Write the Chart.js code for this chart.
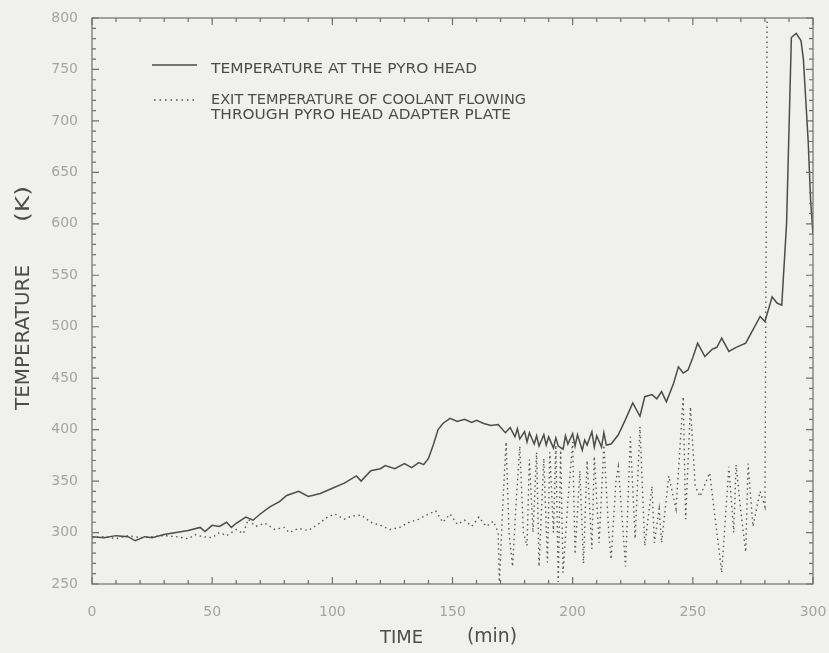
<!DOCTYPE html>
<html>
<head>
<meta charset="utf-8">
<script src="https://cdn.jsdelivr.net/npm/chart.js@4/dist/chart.umd.min.js"></script>
<style>
  html, body { margin: 0; padding: 0; background: #f0f0ee; }
  #wrap { width: 829px; height: 653px; position: relative; }
</style>
</head>
<body>
<div id="wrap"><canvas id="pyroChart" width="829" height="653"></canvas></div>
<script>
// temperature at the pyro head (solid)
const headTime = [0, 5, 10, 15, 18, 22, 25, 30, 35, 40, 45, 47, 50, 53, 56, 58, 60, 64, 67, 70,
  74, 78, 81, 86, 90, 95, 100, 105, 110, 112, 116, 120, 122, 126, 130, 133, 136, 138, 140, 142,
  144, 146, 149, 152, 155, 158, 160, 163, 166, 169, 172, 174, 176, 177, 178, 180, 181, 182, 184, 185,
  186, 188, 189, 190, 192, 193, 194, 196, 197, 198, 200, 201, 202, 204, 205, 206, 208, 209, 210, 212,
  213, 214, 216, 219, 222, 225, 228, 230, 233, 235,
  237, 239, 242, 244, 246, 248, 250, 252, 255, 258, 260, 262, 265, 268, 272, 275, 278, 280, 283, 285,
  287, 289, 291, 293, 295, 296, 297, 298, 299, 300];
const headTemp = [296, 295, 297, 296, 292, 296, 295, 298, 300, 302, 305, 301, 307, 306, 310, 305, 309, 315, 312, 318,
  325, 330, 336, 340, 335, 338, 343, 348, 355, 350, 360, 362, 365, 362, 367, 363, 368, 366, 372, 385,
  400, 406, 411, 408, 410, 407, 409, 406, 404, 405, 397, 402, 393, 401, 391, 398, 388, 397, 386, 394,
  384, 395, 385, 393, 382, 392, 384, 381, 394, 386, 396, 384, 395, 380, 390, 385, 398, 383, 394, 383,
  397, 385, 386, 395, 410, 426, 413, 432, 434, 430,
  437, 427, 445, 461, 455, 458, 470, 484, 471, 478, 480, 489, 476, 480, 484, 497, 510, 505, 529, 523,
  521, 600, 781, 785, 778, 760, 720, 680, 623, 590];

// exit temperature of coolant (dotted)
const coolTime = [0, 5, 10, 15, 20, 25, 30, 35, 40, 43, 46, 50, 53, 56, 60, 63, 65, 68, 72, 76,
  80, 82, 86, 90, 94, 98, 101, 105, 108, 112, 116, 120, 124, 128, 132, 136, 140, 143, 146, 149,
  152, 155, 158, 161, 164, 167, 169, 169.5, 171, 172.3, 173.5, 175, 176.5, 178, 179.5, 181, 182, 183.5, 185, 186,
  188, 189.5, 190.5, 192, 193, 194, 195, 196, 198, 200, 201, 203, 204.5, 206, 208, 209, 211, 213, 215, 216,
  218, 219, 221, 222, 224, 226, 228, 230, 233, 234, 236, 237, 240, 243, 246, 247, 249, 251, 253, 257,
  260, 262, 265, 267, 268, 270, 272, 273, 275, 278, 280, 281, 300];
const coolTemp = [295, 296, 294, 297, 295, 296, 297, 296, 294, 298, 296, 295, 300, 297, 303, 299, 313, 306, 309, 303,
  305, 300, 304, 302, 308, 315, 318, 313, 316, 317, 310, 307, 303, 305, 310, 313, 318, 321, 310, 318,
  308, 312, 306, 315, 306, 311, 300, 252, 330, 388, 300, 267, 330, 384, 300, 287, 371, 300, 378, 267,
  372, 271, 378, 300, 385, 252, 380, 261, 330, 388, 279, 360, 270, 370, 284, 374, 290, 385, 300, 274,
  350, 364, 300, 267, 393, 294, 403, 287, 345, 290, 323, 290, 355, 323, 432, 313, 422, 345, 335, 358,
  300, 261, 364, 300, 366, 320, 281, 367, 306, 340, 325, 850, 850];

const xTickRange = [0, 300, 50];
const yTickRange = [250, 800, 50];

const legendLines = [
  ['TEMPERATURE AT THE PYRO HEAD'],
  ['EXIT TEMPERATURE OF COOLANT FLOWING', 'THROUGH PYRO HEAD ADAPTER PLATE']
];

const ink = '#4c4c4c';
const tickGrey = '#a4a4a4';

// stretch/squeeze a string to a given width
function fitText(ctx, text, x, y, w) {
  const k = w / ctx.measureText(text).width;
  ctx.save();
  ctx.translate(x, y);
  ctx.scale(k, 1);
  ctx.fillText(text, 0, 0);
  ctx.restore();
}

// frame + inward ticks on all four sides
const framePlugin = {
  id: 'frame',
  afterDatasetsDraw(chart) {
    const { ctx, chartArea: a, scales } = chart;
    ctx.save();
    ctx.strokeStyle = '#6e6e6e';
    ctx.lineWidth = 1.2;
    ctx.strokeRect(a.left, a.top, a.right - a.left, a.bottom - a.top);
    ctx.beginPath();
    for (let v = xTickRange[0]; v <= xTickRange[1]; v += 10) {
      const px = scales.x.getPixelForValue(v);
      const len = v % 50 === 0 ? 7 : 4;
      ctx.moveTo(px, a.bottom); ctx.lineTo(px, a.bottom - len);
      ctx.moveTo(px, a.top); ctx.lineTo(px, a.top + len);
    }
    for (let v = yTickRange[0]; v <= yTickRange[1]; v += 10) {
      const py = scales.y.getPixelForValue(v);
      const len = v % 50 === 0 ? 7 : 4;
      ctx.moveTo(a.left, py); ctx.lineTo(a.left + len, py);
      ctx.moveTo(a.right, py); ctx.lineTo(a.right - len, py);
    }
    ctx.stroke();
    ctx.restore();
  }
};

// legend and axis titles
const textPlugin = {
  id: 'texts',
  afterDraw(chart) {
    const ctx = chart.ctx;
    ctx.save();
    ctx.fillStyle = ink;
    ctx.textBaseline = 'middle';
    ctx.textAlign = 'left';

    ctx.strokeStyle = ink;
    ctx.lineWidth = 1.4;
    ctx.beginPath(); ctx.moveTo(152, 65); ctx.lineTo(197, 65); ctx.stroke();
    ctx.setLineDash([1.5, 4]);
    ctx.beginPath(); ctx.moveTo(154, 100); ctx.lineTo(197, 100); ctx.stroke();
    ctx.setLineDash([]);

    ctx.font = '14px "DejaVu Sans", sans-serif';
    fitText(ctx, legendLines[0][0], 211, 69, 266);
    fitText(ctx, legendLines[1][0], 211, 100, 315);
    fitText(ctx, legendLines[1][1], 211, 115, 300);

    // x title
    ctx.font = '18px "DejaVu Sans", sans-serif';
    fitText(ctx, 'TIME', 380, 638, 43);
    ctx.font = '19px "DejaVu Sans", sans-serif';
    fitText(ctx, '(min)', 467, 637, 50);

    // y title
    ctx.translate(24, 0);
    ctx.rotate(-Math.PI / 2);
    ctx.font = '19px "DejaVu Sans", sans-serif';
    fitText(ctx, 'TEMPERATURE', -410, 0, 145);
    fitText(ctx, '(K)', -222, 0, 36);
    ctx.restore();
  }
};

new Chart(document.getElementById('pyroChart'), {
  type: 'line',
  data: {
    datasets: [
      {
        label: 'TEMPERATURE AT THE PYRO HEAD',
        data: headTime.map((t, i) => ({ x: t, y: headTemp[i] })),
        borderColor: ink,
        borderWidth: 1.5,
        pointRadius: 0,
        tension: 0
      },
      {
        label: 'EXIT TEMPERATURE OF COOLANT FLOWING THROUGH PYRO HEAD ADAPTER PLATE',
        data: coolTime.map((t, i) => ({ x: t, y: coolTemp[i] })),
        borderColor: '#5a5a5a',
        borderWidth: 1.4,
        borderDash: [1.5, 3.5],
        pointRadius: 0,
        tension: 0
      }
    ]
  },
  options: {
    responsive: false,
    animation: false,
    layout: { padding: { left: 0, top: 18, right: 16, bottom: 0 } },
    plugins: {
      legend: { display: false },
      tooltip: { enabled: false }
    },
    scales: {
      x: {
        type: 'linear',
        min: xTickRange[0],
        max: xTickRange[1],
        grid: { display: false, drawTicks: false },
        border: { display: false },
        ticks: {
          stepSize: xTickRange[2],
          padding: 20,
          color: tickGrey,
          font: { family: 'DejaVu Sans', size: 14 }
        },
        afterFit(scale) {
          scale.height = 69;
          scale.paddingLeft = 0;
          scale.paddingRight = 0;
        }
      },
      y: {
        min: yTickRange[0],
        max: yTickRange[1],
        grid: { display: false, drawTicks: false },
        border: { display: false },
        ticks: {
          stepSize: yTickRange[2],
          padding: 14,
          color: tickGrey,
          font: { family: 'DejaVu Sans', size: 14 }
        },
        afterFit(scale) {
          scale.width = 92;
          scale.paddingTop = 0;
          scale.paddingBottom = 0;
        }
      }
    }
  },
  plugins: [framePlugin, textPlugin]
});
</script>
</body>
</html>
